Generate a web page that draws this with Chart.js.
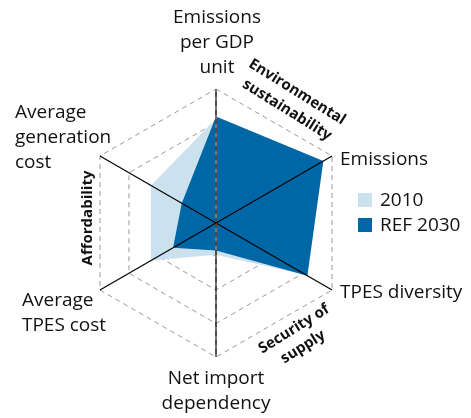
<!DOCTYPE html>
<html>
<head>
<meta charset="utf-8">
<script src="https://cdn.jsdelivr.net/npm/chart.js@4.4.1/dist/chart.umd.min.js"></script>
<style>
  html, body { margin: 0; padding: 0; background: #fff; }
</style>
</head>
<body>
<canvas id="radar" width="471" height="418"></canvas>
<script>
// spokes, clockwise from the top
var axisLabels = [['Emissions', 'per GDP', 'unit'], ['Emissions'], ['TPES diversity'],
                  ['Net import', 'dependency'], ['Average', 'TPES cost'], ['Average', 'generation', 'cost']];
var seriesNames = ['2010', 'REF 2030'];
var values2010 = [3.12, 3.5, 3.1, 0.95, 2.25, 2.24];
var valuesRef2030 = [3.18, 3.7, 3.15, 0.82, 1.48, 1.18];
var groupLabels = [['Environmental', 'sustainability'], ['Security of', 'supply'], ['Affordability']];
var scaleMax = 4;

var lightBlue = '#cce1ee';
var darkBlue = '#0067a6';
var labelFont = '19px "Open Sans"';
var groupFont = 'bold 15px "Open Sans"';

// where each spoke label sits, relative to the outer end of its spoke (first baseline)
var labelPlace = [
  { align: 'center', dx: 1, dy: -66 },
  { align: 'left', dx: 8, dy: 9 },
  { align: 'left', dx: 8, dy: 8 },
  { align: 'center', dx: 0, dy: 27 },
  { align: 'left', dx: -78, dy: 16 },
  { align: 'left', dx: -85, dy: -38 }
];
// group titles, relative to the centre: line centres and rotation
var groupPlace = [
  { lines: [[81, -131], [71, -113]], angle: 32 },
  { lines: [[78, 106], [87, 124]], angle: -32 },
  { lines: [[-128, -5]], angle: -90 }
];

// spokes and labels go on top of the filled areas
var overlay = {
  id: 'overlay',
  afterDatasetsDraw: function(chart) {
    var c = chart.ctx;
    var s = chart.scales.r;
    var cx = s.xCenter, cy = s.yCenter;
    var i, j, p;

    for (i = 0; i < axisLabels.length; i++) {
      p = s.getPointPosition(i, s.drawingArea);
      c.save();
      c.beginPath();
      c.moveTo(cx, cy);
      c.lineTo(p.x, p.y);
      if (i % 3 === 0) {
        c.strokeStyle = '#777';
        c.lineWidth = 2;
        c.stroke();
        c.setLineDash([5, 4]);
        c.strokeStyle = '#4a4a4a';
        c.stroke();
      } else {
        c.strokeStyle = '#000';
        c.lineWidth = 1.2;
        c.stroke();
      }
      c.restore();
    }

    c.save();
    c.fillStyle = '#111';
    c.font = labelFont;
    c.textBaseline = 'alphabetic';
    for (i = 0; i < axisLabels.length; i++) {
      p = s.getPointPosition(i, s.drawingArea);
      var pl = labelPlace[i];
      c.textAlign = pl.align;
      for (j = 0; j < axisLabels[i].length; j++) {
        c.fillText(axisLabels[i][j], p.x + pl.dx, p.y + pl.dy + j * 25);
      }
    }

    c.font = groupFont;
    c.textAlign = 'center';
    c.textBaseline = 'middle';
    for (i = 0; i < groupLabels.length; i++) {
      for (j = 0; j < groupLabels[i].length; j++) {
        var pos = groupPlace[i].lines[j];
        c.save();
        c.translate(cx + pos[0], cy + pos[1]);
        c.rotate(groupPlace[i].angle * Math.PI / 180);
        c.fillText(groupLabels[i][j], 0, 0);
        c.restore();
      }
    }

    // legend
    c.font = labelFont;
    c.textAlign = 'left';
    c.textBaseline = 'middle';
    chart.data.datasets.forEach(function(ds, k) {
      var y = 193 + k * 25;
      c.fillStyle = ds.backgroundColor;
      c.fillRect(358, y, 14, 14);
      c.fillStyle = '#111';
      c.fillText(ds.label, 380, y + 8);
    });
    c.restore();
  }
};

var chart = new Chart(document.getElementById('radar'), {
  type: 'radar',
  data: {
    labels: axisLabels,
    datasets: [
      { label: seriesNames[0], data: values2010, backgroundColor: lightBlue,
        borderWidth: 0, pointRadius: 0, fill: true, order: 1 },
      { label: seriesNames[1], data: valuesRef2030, backgroundColor: darkBlue,
        borderWidth: 0, pointRadius: 0, fill: true, order: 0 }
    ]
  },
  options: {
    responsive: false,
    animation: false,
    layout: { padding: { left: 82, right: 120, top: 89, bottom: 60 } },
    plugins: { legend: { display: false }, tooltip: { enabled: false } },
    scales: {
      r: {
        min: 0,
        max: scaleMax,
        ticks: { display: false, stepSize: 1 },
        pointLabels: { display: false },
        angleLines: { display: false },
        grid: { color: '#9a9a9a', lineWidth: 1 },
        border: { dash: [5, 4] }
      }
    }
  },
  plugins: [overlay]
});
</script>
</body>
</html>
